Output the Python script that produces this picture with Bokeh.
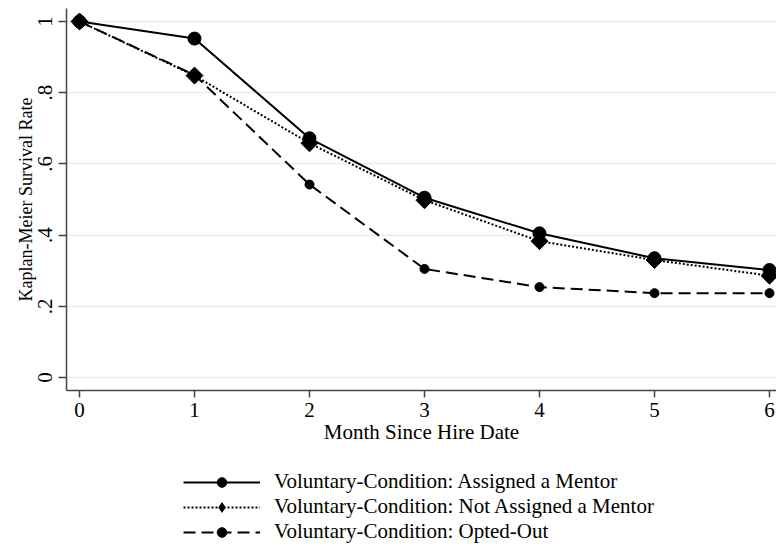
from bokeh.plotting import figure
from bokeh.models import Legend, LegendItem, FixedTicker, Range1d
from bokeh.layouts import column
from bokeh.embed import file_html
from bokeh.resources import INLINE

months = [0, 1, 2, 3, 4, 5, 6]
assigned = [1.0, 0.952, 0.672, 0.505, 0.405, 0.335, 0.302]
not_assigned = [1.0, 0.848, 0.658, 0.498, 0.383, 0.330, 0.286]
opted_out = [1.0, 0.850, 0.542, 0.305, 0.254, 0.237, 0.237]
y_ticks = [0, 0.2, 0.4, 0.6, 0.8, 1.0]
y_tick_labels = ["0", ".2", ".4", ".6", ".8", "1"]
x_label = "Month Since Hire Date"
y_label = "Kaplan-Meier Survival Rate"
series_names = ["Voluntary-Condition: Assigned a Mentor",
                "Voluntary-Condition: Not Assigned a Mentor",
                "Voluntary-Condition: Opted-Out"]
series_values = [assigned, not_assigned, opted_out]

FONT = "Liberation Serif"

p = figure(width=776, height=460, output_backend="svg", toolbar_location=None,
           x_range=Range1d(-0.113, 6.061), y_range=Range1d(-0.0365, 1.0365),
           min_border_left=66, min_border_right=0, min_border_top=8, min_border_bottom=70)
p.outline_line_color = None
p.background_fill_color = "white"
p.border_fill_color = "white"

p.xgrid.grid_line_color = None
p.ygrid.grid_line_color = "#ebebeb"
p.ygrid.grid_line_width = 1.5
p.yaxis.ticker = FixedTicker(ticks=y_ticks)
p.yaxis.major_label_overrides = {t: l for t, l in zip(y_ticks, y_tick_labels)}
p.xaxis.ticker = FixedTicker(ticks=months)

for ax in (p.xaxis, p.yaxis):
    ax.axis_line_color = "#444444"
    ax.axis_line_width = 1.5
    ax.major_tick_line_color = "#444444"
    ax.major_tick_line_width = 1.5
    ax.major_tick_in = 0
    ax.minor_tick_line_color = None
    ax.major_label_text_font = FONT
    ax.major_label_text_font_size = "21px"
    ax.major_label_text_color = "black"
    ax.axis_label_text_font = FONT
    ax.axis_label_text_font_style = "normal"
    ax.axis_label_text_color = "black"

p.xaxis.axis_label_text_font_size = "21px"
p.yaxis.axis_label_text_font_size = "18px"
p.xaxis.major_tick_out = 7
p.yaxis.major_tick_out = 8
p.yaxis.major_label_orientation = "vertical"
p.xaxis.axis_label = x_label
p.yaxis.axis_label = y_label
p.xaxis.axis_label_standoff = 0
p.yaxis.axis_label_standoff = 0
p.xaxis.major_label_standoff = 5
p.yaxis.major_label_standoff = 6

line_styles = [dict(line_color="black", line_width=2),
               dict(line_color="black", line_width=2, line_dash="2 2"),
               dict(line_color="black", line_width=2, line_dash="12 6")]
marker_styles = [dict(marker="circle", size=13, color="black"),
                 dict(marker="square", angle=0.7854, size=12, color="black"),
                 dict(marker="circle", size=9, color="black")]
legend_marker_styles = [dict(marker="circle", size=13, color="black"),
                        dict(marker="diamond", size=19, color="black"),
                        dict(marker="circle", size=9, color="black")]

for ys, ls, ms in zip(series_values, line_styles, marker_styles):
    p.line(months, ys, **ls)
    p.scatter(months, ys, **ms)

# legend panel below the chart (its renderers lie outside its visible ranges)
p2 = figure(width=776, height=90, output_backend="svg", toolbar_location=None,
            x_range=Range1d(100, 101), y_range=Range1d(100, 101),
            min_border_left=66, min_border_right=0, min_border_top=0, min_border_bottom=0)
p2.axis.visible = False
p2.grid.visible = False
p2.outline_line_color = None
p2.background_fill_color = "white"
p2.border_fill_color = "white"

items = []
for name, ys, ls, ms in zip(series_names, series_values, line_styles, legend_marker_styles):
    lr = p2.line(months, ys, **ls)
    mr = p2.scatter(months, ys, **ms)
    items.append(LegendItem(label=name, renderers=[lr, mr]))

legend = Legend(items=items, location=(117, 6), orientation="vertical")
legend.border_line_color = None
legend.background_fill_alpha = 0
legend.label_text_font = FONT
legend.label_text_font_size = "21px"
legend.label_text_color = "black"
legend.glyph_width = 77
legend.glyph_height = 24
legend.label_height = 24
legend.spacing = 0
legend.label_standoff = 14
legend.margin = 0
legend.padding = 0
p2.add_layout(legend, "center")

layout = column(p, p2, spacing=0)
open("out.html", "w").write(file_html(layout, INLINE))
